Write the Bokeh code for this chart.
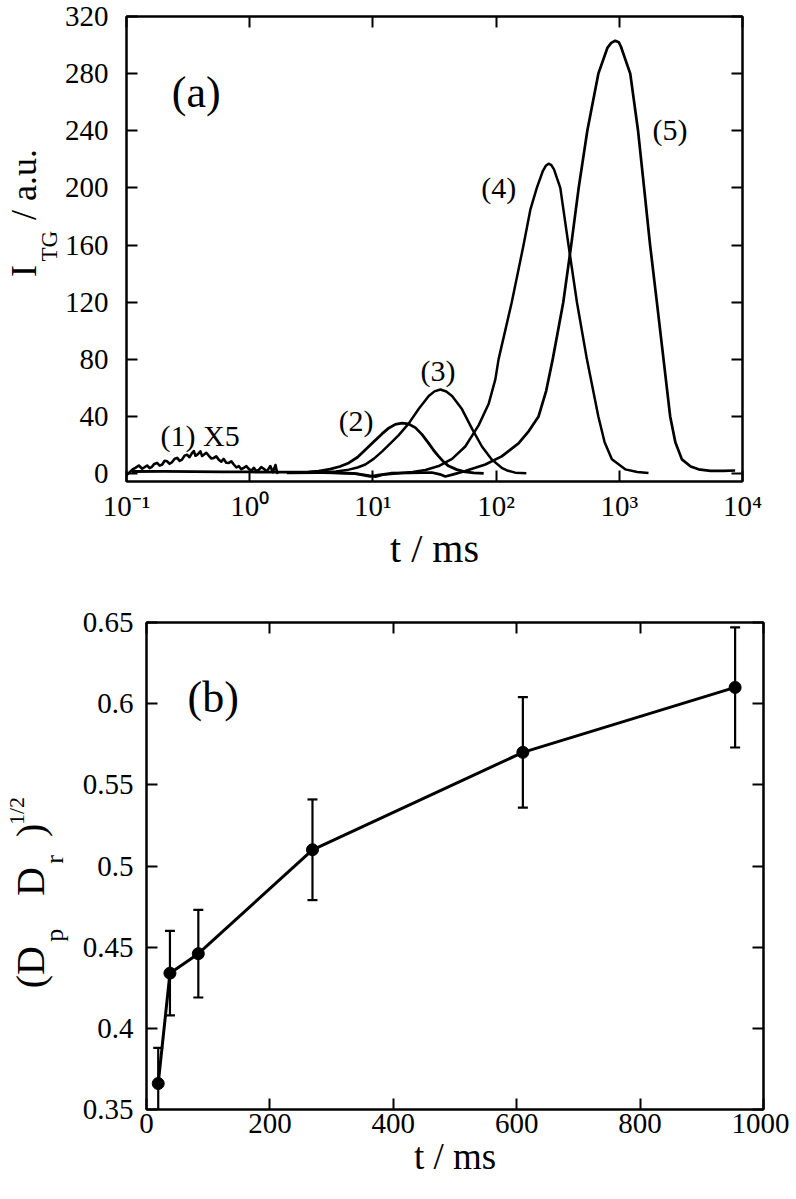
import numpy as np
from bokeh.plotting import figure
from bokeh.models import (ColumnDataSource, FixedTicker, LogAxis, LinearAxis, Label, Range1d)
from bokeh.embed import file_html
from bokeh.resources import INLINE

# ---------------- panel (a) data : t in ms, I_TG in a.u. ----------------
c1_t = [0.100, 0.1045, 0.112, 0.118, 0.126, 0.134, 0.140, 0.147, 0.154, 0.161,
        0.168, 0.177, 0.186, 0.195, 0.204, 0.213, 0.224, 0.234, 0.246, 0.258,
        0.270, 0.282, 0.296, 0.310, 0.325, 0.340, 0.352, 0.363, 0.380, 0.398,
        0.411, 0.424, 0.445, 0.466, 0.489, 0.511, 0.535, 0.561, 0.588, 0.615,
        0.645, 0.676, 0.710, 0.743, 0.780, 0.815, 0.855, 0.895, 0.940, 0.982,
        1.03, 1.08, 1.13, 1.18, 1.24, 1.30, 1.38, 1.47, 1.54, 1.62, 1.67, 1.72]
c1_y = [-1.0, 0.5, 3.0, 4.1, 5.7, 3.4, 4.5, 5.7, 3.9, 4.8,
        6.8, 7.5, 5.6, 6.4, 9.0, 8.7, 6.9, 8.0, 10.4, 11.0,
        8.9, 9.8, 12.6, 13.2, 11.5, 14.4, 15.8, 12.5, 13.6, 15.6,
        12.4, 13.2, 14.6, 12.5, 10.6, 11.0, 12.1, 9.8, 8.4, 10.3,
        7.6, 7.5, 8.6, 6.4, 4.3, 5.3, 3.1, 4.1, 5.2, 3.4,
        2.0, 4.1, 1.9, 2.5, 4.6, 3.4, 1.6, 5.3, 1.0, 6.0, 0.5, 1.2]

c2_t = [0.11, 0.2, 0.35, 0.6, 1.0, 1.5, 2.2, 3.0, 3.63, 4.5, 5.4, 6.37, 7.5, 8.69,
        10.2, 11.9, 13.5, 15.2, 17.2, 19.5, 22.1, 25.0, 28.4, 31.2, 34.2, 37.5,
        41.2, 48.0, 56.2, 66.0, 79.3]
c2_y = [1.5, 1.6, 1.4, 1.3, 1.2, 1.0, 1.0, 1.2, 1.8, 3.2, 5.0, 7.5, 11.5, 16.7,
        22.5, 28.0, 32.0, 34.5, 35.4, 34.8, 32.2, 27.5, 21.2, 16.2, 12.1, 8.2,
        5.3, 2.8, 1.2, 0.5, 0.2]

c3_t = [2.0, 3.63, 5.0, 6.37, 7.5, 8.69, 10.2, 11.9, 14.0, 16.2, 19.5, 23.5, 28.4,
        31.6, 35.3, 39.4, 43.9, 52.8, 63.7, 76.7, 92.5, 111, 125, 143, 176]
c3_y = [0.5, 0.6, 1.5, 2.8, 4.3, 6.4, 10.5, 15.6, 21.5, 27.0, 35.0, 45.2, 54.4,
        57.6, 58.9, 57.5, 54.4, 45.2, 31.5, 19.0, 9.8, 4.1, 2.0, 0.7, 0.3]

c4_t = [3.0, 5.0, 7.5, 9.5, 10.5, 12.0, 16.2, 21.0, 26.7, 34.2, 43.9, 56.2, 72.1,
        86.9, 98.6, 104.7, 134, 167, 190, 214, 240, 253, 267, 281, 295, 332, 387,
        453, 546, 676, 760, 871, 1117, 1400, 1726]
c4_y = [0.8, 0.5, 0.0, -1.5, -2.2, -0.8, 0.2, 1.2, 2.5, 5.3, 10.3, 19.0, 33.8,
        48.7, 66.0, 80.0, 120, 160, 185, 200, 212, 215.5, 217, 216, 213, 200, 160,
        120, 80, 40, 22, 10, 3, 1.2, 0.5]

c5_t = [4.0, 7.0, 9.5, 11.0, 14.0, 20.0, 30.0, 35.0, 38.7, 45.0, 56.2, 81.8, 111,
        152, 185, 221, 255, 288, 351, 407, 468, 550, 676, 800, 860, 927, 990, 1030,
        1227, 1420, 1590, 1778, 2018, 2286, 2588, 2850, 3221, 3800, 4395, 5500,
        7000, 8710]
c5_y = [0.8, 0.2, -2.0, -1.0, 0.3, 0.6, 0.8, -0.5, -2.0, -0.5, 1.8, 6.4, 12.1,
        21.2, 30, 40, 58, 80, 120, 160, 200, 240, 280, 298, 301.5, 303, 302, 299,
        280, 240, 200, 160, 120, 80, 40, 22, 10, 5, 3, 2.0,
        2.0, 2.2]

a_xticks = [0.1, 1, 10, 100, 1000, 10000]
a_xlabels = ["10\u207b\u00b9", "10\u2070", "10\u00b9", "10\u00b2", "10\u00b3", "10\u2074"]
a_yticks = [0, 40, 80, 120, 160, 200, 240, 280, 320]

# ---------------- panel (b) data ----------------
b_t = [19, 38, 84, 269, 610, 954]
b_d = [0.366, 0.434, 0.446, 0.510, 0.570, 0.610]
b_err = [0.022, 0.026, 0.027, 0.031, 0.034, 0.037]
b_xticks = [0, 200, 400, 600, 800, 1000]
b_yticks = [0.35, 0.40, 0.45, 0.50, 0.55, 0.60, 0.65]
b_ylabels = ["0.35", "0.4", "0.45", "0.5", "0.55", "0.6", "0.65"]

SERIF = "Liberation Serif"
TICK_FS = "29px"
NB = "\u00a0"


def style_axis(ax, show_labels=True):
    ax.axis_line_width = 2
    ax.axis_line_color = "black"
    ax.major_tick_line_width = 2
    ax.major_tick_line_color = "black"
    ax.major_tick_in = 11
    ax.major_tick_out = 0
    ax.minor_tick_line_color = None
    ax.major_label_text_font = SERIF
    ax.axis_label_text_color = "black"
    ax.axis_label_text_font = SERIF
    ax.axis_label_text_font_style = "normal"
    if show_labels:
        ax.major_label_text_font_size = TICK_FS
        ax.major_label_text_color = "black"
    else:
        ax.major_label_text_font_size = "2px"
        ax.major_label_text_color = None
        ax.major_label_standoff = 0


def set_standoff(ax, v):
    try:
        ax.axis_label_standoff = v
    except Exception:
        ax.axis_label_standoff = 0


def title_layer(p, text, size, standoff):
    """An extra, otherwise invisible left axis that only carries one line of the y title."""
    ax = LinearAxis(ticker=FixedTicker(ticks=[], minor_ticks=[]))
    style_axis(ax, False)
    ax.axis_line_color = None
    ax.major_tick_line_color = None
    ax.axis_label = text
    ax.axis_label_text_font_size = size
    set_standoff(ax, standoff)
    p.add_layout(ax, "left")
    return ax


def lbl(p, text, x, y, size):
    p.add_layout(Label(x=x, y=y, text=text, text_font=SERIF, text_font_size=size,
                       text_color="black", text_align="left", text_baseline="alphabetic"))


# ================= panel (a) =================
A_L, A_T, A_W, A_H = 128, 24, 616, 465          # frame position on the page (px)
A_Y0, A_Y1 = -5.5, 320
pa = figure(frame_width=A_W, frame_height=A_H, x_axis_type="log",
            x_range=Range1d(0.1, 10000), y_range=Range1d(A_Y0, A_Y1),
            output_backend="svg", toolbar_location=None,
            min_border_left=A_L - 8, min_border_right=788 - A_L - A_W,
            min_border_top=A_T - 8, min_border_bottom=575 - A_T - A_H)
pa.grid.visible = False
pa.outline_line_color = "black"
pa.outline_line_width = 2
pa.background_fill_color = "white"
pa.border_fill_color = "white"


def ay(py):  # page y (px) of a text baseline -> data y of panel (a)
    return A_Y0 + (A_T + A_H - py) * (A_Y1 - A_Y0) / A_H


pa.xaxis.ticker = FixedTicker(ticks=a_xticks, minor_ticks=[])
pa.xaxis.major_label_overrides = dict(zip(a_xticks, a_xlabels))
pa.yaxis.ticker = FixedTicker(ticks=a_yticks, minor_ticks=[])
for ax in pa.xaxis + pa.yaxis:
    style_axis(ax)
pa.xaxis.major_label_standoff = 8
pa.yaxis.major_label_standoff = 18
pa.xaxis.axis_label = "t / ms"
pa.xaxis.axis_label_text_font_size = "40px"
pa.xaxis.axis_label_standoff = 1

# y title  I_TG / a.u.  : subscript line next to the tick labels, main line outside it
pa.yaxis.axis_label = NB + "TG"
pa.yaxis.axis_label_text_font_size = "23px"
set_standoff(pa.yaxis[0], 0)
title_layer(pa, NB * 8 + "I" + NB * 5 + "/ a.u.", "36px", -10)

top_a = LogAxis(ticker=FixedTicker(ticks=a_xticks, minor_ticks=[]))
style_axis(top_a, False)
pa.add_layout(top_a, "above")
right_a = LinearAxis(ticker=FixedTicker(ticks=a_yticks, minor_ticks=[]))
style_axis(right_a, False)
pa.add_layout(right_a, "right")

for tt, yy, lw in [(c1_t, c1_y, 2.6), (c2_t, c2_y, 2.8), (c3_t, c3_y, 2.5),
                   (c4_t, c4_y, 2.5), (c5_t, c5_y, 2.7)]:
    pa.line(tt, yy, line_color="black", line_width=lw, line_join="round")

lbl(pa, "(a)", 0.233, ay(100), "44px")
lbl(pa, "(1) X5", 0.189, ay(443), "30px")
lbl(pa, "(2)", 5.27, ay(428), "30px")
lbl(pa, "(3)", 24.3, ay(378), "30px")
lbl(pa, "(4)", 75.9, ay(195), "30px")
lbl(pa, "(5)", 1862, ay(137), "30px")

# ================= panel (b) =================
B_TOP = 575
B_L, B_T, B_W, B_H = 145, 624, 617, 487
pb = figure(frame_width=B_W, frame_height=B_H,
            x_range=Range1d(0, 1000), y_range=Range1d(0.35, 0.65),
            output_backend="svg", toolbar_location=None,
            min_border_left=B_L - 8, min_border_right=788 - B_L - B_W,
            min_border_top=B_T - B_TOP, min_border_bottom=1191 - B_T - B_H)
pb.grid.visible = False
pb.outline_line_color = "black"
pb.outline_line_width = 2
pb.background_fill_color = "white"
pb.border_fill_color = "white"

pb.xaxis.ticker = FixedTicker(ticks=b_xticks, minor_ticks=[])
pb.yaxis.ticker = FixedTicker(ticks=b_yticks, minor_ticks=[])
pb.yaxis.major_label_overrides = dict(zip(b_yticks, b_ylabels))
for ax in pb.xaxis + pb.yaxis:
    style_axis(ax)
pb.xaxis.major_label_standoff = 4
pb.yaxis.major_label_standoff = 13
pb.xaxis.axis_label = "t / ms"
pb.xaxis.axis_label_text_font_size = "37px"
pb.xaxis.axis_label_standoff = 0

# y title (D_p D_r)^1/2 : subscripts, main letters, superscript as three stacked lines
pb.yaxis.axis_label = "p" + NB * 10 + "r" + NB * 10
pb.yaxis.axis_label_text_font_size = "26px"
set_standoff(pb.yaxis[0], 11)
title_layer(pb, "(D" + NB * 5 + "D" + NB * 3 + ")" + NB * 8, "40px", -16)
title_layer(pb, NB * 20 + "1/2", "22px", -24)

top_b = LinearAxis(ticker=FixedTicker(ticks=b_xticks, minor_ticks=[]))
style_axis(top_b, False)
pb.add_layout(top_b, "above")
right_b = LinearAxis(ticker=FixedTicker(ticks=b_yticks, minor_ticks=[]))
style_axis(right_b, False)
pb.add_layout(right_b, "right")

src_b = ColumnDataSource(dict(
    t=b_t, d=b_d,
    lo=[d - e for d, e in zip(b_d, b_err)],
    hi=[d + e for d, e in zip(b_d, b_err)],
))
pb.segment(x0="t", y0="lo", x1="t", y1="hi", source=src_b, line_color="black", line_width=2.2)
pb.scatter(x="t", y="lo", source=src_b, marker="dash", size=10, line_color="black", line_width=2.2)
pb.scatter(x="t", y="hi", source=src_b, marker="dash", size=10, line_color="black", line_width=2.2)
pb.line(x="t", y="d", source=src_b, line_color="black", line_width=3)
pb.scatter(x="t", y="d", source=src_b, marker="circle", size=12, fill_color="black", line_color="black")

lbl(pb, "(b)", 66.5, 0.6038, "44px")

open("out.html", "w").write(file_html([pa, pb], INLINE))
